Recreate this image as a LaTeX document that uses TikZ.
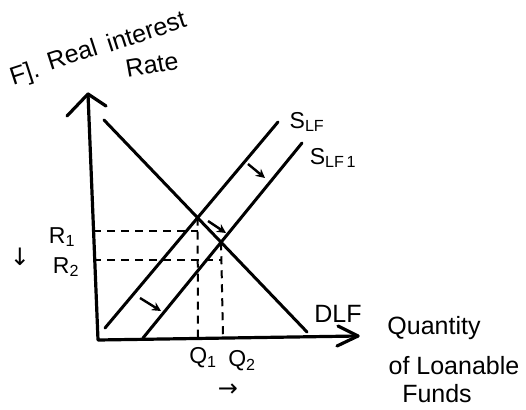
\documentclass[tikz,border=0pt]{standalone}
\usepackage{fontspec}
\setmainfont{Liberation Sans}
\newfontfamily\arrowfont{DejaVu Sans}
\usetikzlibrary{arrows.meta}
\begin{document}
\begin{tikzpicture}[x=1pt,y=-1pt,
  curve/.style={line width=3pt,line cap=round},
  axisline/.style={line width=3.2pt,line cap=round,line join=round},
  guide/.style={line width=2pt,dash pattern=on 8pt off 6pt},
  shiftarrow/.style={line width=2.4pt,-{Stealth[length=9pt,width=9pt]}},
  lbl/.style={font=\fontsize{25}{27}\selectfont,inner sep=0pt},
  sublbl/.style={font=\fontsize{23}{25}\selectfont,inner sep=0pt}]
\useasboundingbox (0,0) rectangle (526,409);
% axes
\coordinate (origin) at (98,340);
\coordinate (ytop) at (88,94);
\coordinate (xend) at (358,336);
\draw[axisline] (ytop) -- (origin) -- (xend);
\draw[axisline] (67,116) -- (ytop) -- (106,106);
\draw[axisline] (338,326) -- (xend) -- (337,346);
% curves
\coordinate (d1) at (104,120);
\coordinate (d2) at (307,332);
\coordinate (s1) at (105,328);
\coordinate (s2) at (278,122);
\coordinate (t1) at (143,338);
\coordinate (t2) at (302,143);
\draw[curve] (d1) -- (d2);
\draw[curve] (s1) -- (s2);
\draw[curve] (t1) -- (t2);
\coordinate (e1) at (intersection of d1--d2 and s1--s2);
\coordinate (e2) at (intersection of d1--d2 and t1--t2);
% guides
\coordinate (r1) at (93,231);
\coordinate (r2) at (93,260);
\coordinate (q1) at (198,338);
\coordinate (q2) at (223,338);
\draw[guide] (r1) -- (e1 |- r1);
\draw[guide] (r2) -- (e2 |- r2);
\draw[guide] (e1) -- (q1);
\draw[guide] (e2) -- (q2);
% shift arrows
\draw[shiftarrow] (248,164) -- (265,178);
\draw[shiftarrow] (208,221) -- (226,233);
\draw[shiftarrow] (140,298) -- (161,311);
% labels
\node[lbl,rotate=18] (yf) at (25,75) {F].};
\node[lbl,rotate=18] (yreal) at (72,54) {Real};
\node[lbl,rotate=18] (yint) at (146,31) {interest};
\node[lbl,rotate=10] (ylab2) at (152,65) {Rate};
\node[sublbl] (sl) at (307,122) {S\textsubscript{LF}};
\node[sublbl] (sl1) at (333,158) {S\textsubscript{LF\,1}};
\node[lbl] (dl) at (338,314) {DLF};
\node[sublbl] (R1) at (62,237) {R\textsubscript{1}};
\node[sublbl] (R2) at (66,267) {R\textsubscript{2}};
\node[inner sep=0pt,font=\arrowfont\fontsize{24}{26}\selectfont] (rdown) at (20,257) {↓};
\node[sublbl] (Q1) at (203,358) {Q\textsubscript{1}};
\node[sublbl] (Q2) at (242,361) {Q\textsubscript{2}};
\node[inner sep=0pt,font=\arrowfont\fontsize{24}{26}\selectfont] (qright) at (228,390) {→};
\node[lbl] (xl1) at (434,328) {Quantity};
\node[lbl] (xl2) at (454,366) {of Loanable};
\node[lbl] (xl3) at (437,394) {Funds};
\end{tikzpicture}
\end{document}
